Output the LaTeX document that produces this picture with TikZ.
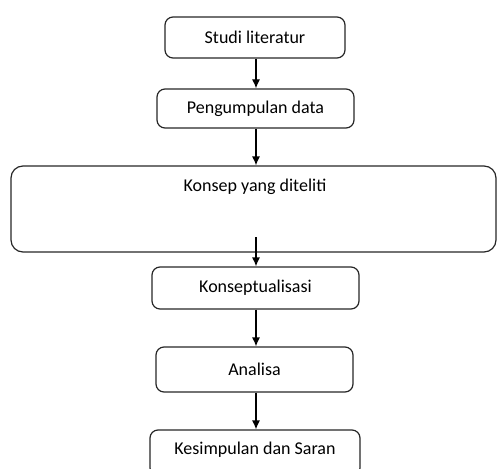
\documentclass[tikz,border=0pt]{standalone}
\usepackage{fontspec}
\setmainfont{Carlito}
\usetikzlibrary{arrows.meta}

\begin{document}
\begin{tikzpicture}[x=1pt,y=-1pt,
  kotak/.style={draw=black!85, rounded corners=8pt, line width=1.2pt, inner sep=0pt, font=\fontsize{18}{20}\selectfont},
  panah/.style={-{Latex[length=9pt,width=8pt]}, line width=1.2pt}]
\useasboundingbox (0,0) rectangle (497,468);
\clip (0,0) rectangle (497,468);
\node [kotak, minimum width=180pt, minimum height=41pt] (studi) at (255,37.5) {Studi literatur};
\node [kotak, minimum width=197pt, minimum height=39pt] (data) at (255.5,108.5) {Pengumpulan data};
\node [kotak, rounded corners=12pt, minimum width=485pt, minimum height=86pt] (konsep) at (253.5,209) {};
\node [font=\fontsize{18}{20}\selectfont, inner sep=0pt] (konsepteks) at (255,187) {Konsep yang diteliti};
\node [kotak, minimum width=207pt, minimum height=42pt] (konseptual) at (255.5,288) {Konseptualisasi};
\node [kotak, minimum width=197pt, minimum height=45pt] (analisa) at (254.5,369.5) {Analisa};
\node [kotak, text depth=10pt, minimum width=210pt, minimum height=46pt] (simpul) at (255,453) {Kesimpulan dan Saran};
\coordinate (awal) at (256,237);
\draw [panah] (256,0 |- studi.south) -- (256,0 |- data.north);
\draw [panah] (256,0 |- data.south) -- (256,0 |- konsep.north);
\draw [panah] (awal) -- (awal |- konseptual.north);
\draw [panah] (256,0 |- konseptual.south) -- (256,0 |- analisa.north);
\draw [panah] (256,0 |- analisa.south) -- (256,0 |- simpul.north);
\end{tikzpicture}
\end{document}
